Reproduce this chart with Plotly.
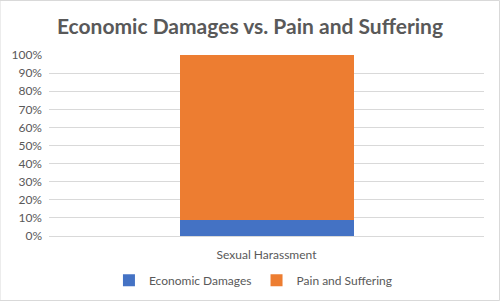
import plotly.graph_objects as go

categories = ["Sexual Harassment"]
economic_damages = [0.09]
pain_and_suffering = [0.91]
tick_vals = [i / 10 for i in range(11)]
tick_text = [f"{i*10}%" for i in range(11)]

fig = go.Figure()
fig.add_trace(go.Bar(x=categories, y=economic_damages, name="Economic Damages",
                     marker=dict(color="#4472C4", line=dict(width=0))))
fig.add_trace(go.Bar(x=categories, y=pain_and_suffering, name="Pain and Suffering",
                     marker=dict(color="#ED7D31", line=dict(width=0))))

fig.update_layout(
    width=500, height=301,
    barmode="stack", bargap=0.6,
    paper_bgcolor="white", plot_bgcolor="white",
    margin=dict(l=49, r=16, t=55, b=65, autoexpand=False),
    font=dict(family="Lato, Open Sans, sans-serif", color="#595959", size=12),
    title=dict(text="<b>Economic Damages vs. Pain and Suffering</b>", x=0.5, xanchor="center",
               y=0.91, yanchor="middle", font=dict(size=21, color="#595959", family="Lato, Open Sans, sans-serif")),
    yaxis=dict(range=[0, 1], tickvals=tick_vals, ticktext=tick_text, showgrid=True,
               gridcolor="#D9D9D9", gridwidth=1, zeroline=False, showline=False,
               ticks="", ticklabelstandoff=6, tickfont=dict(size=12, color="#595959")),
    xaxis=dict(showline=True, linecolor="#D9D9D9", ticks="", ticklabelstandoff=8,
               tickfont=dict(size=12, color="#595959")),
    legend=dict(orientation="h", x=0.47, xanchor="center", y=-0.245, yanchor="middle",
                font=dict(size=12, color="#595959"), traceorder="normal",
                itemwidth=30, entrywidthmode="pixels"),
    shapes=[dict(type="rect", xref="paper", yref="paper", x0=-49/435, x1=1+15.5/435,
                 y0=-64.5/181, y1=1+54.5/181, line=dict(color="#D9D9D9", width=1))],
)

fig.write_html("out.html")
